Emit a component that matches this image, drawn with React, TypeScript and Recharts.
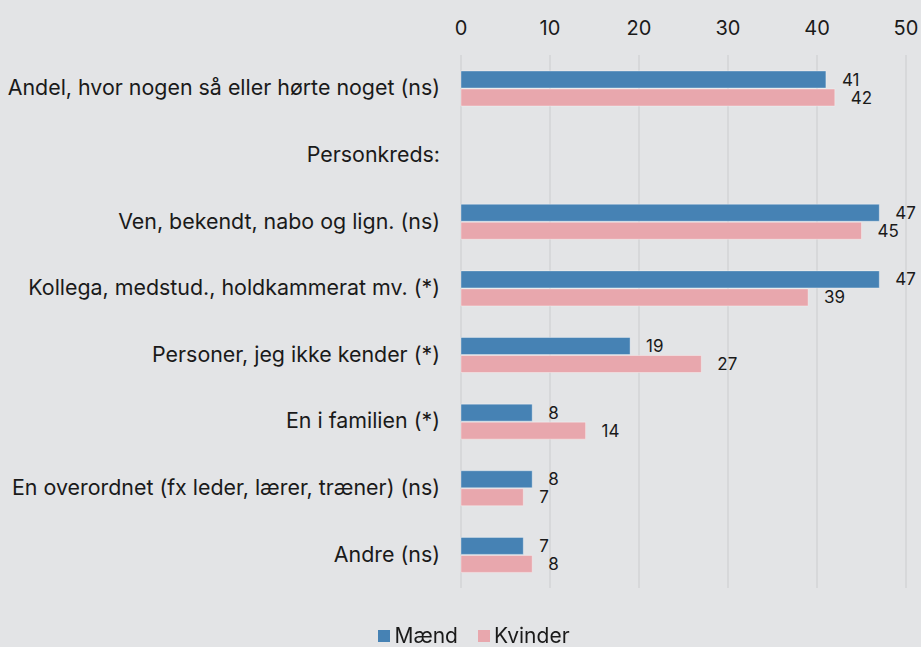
import { BarChart, Bar, XAxis, YAxis, CartesianGrid, Legend, LabelList } from "recharts";

const categories = [
  "Andel, hvor nogen så eller hørte noget (ns)",
  "Personkreds:",
  "Ven, bekendt, nabo og lign. (ns)",
  "Kollega, medstud., holdkammerat mv. (*)",
  "Personer, jeg ikke kender (*)",
  "En i familien (*)",
  "En overordnet (fx leder, lærer, træner) (ns)",
  "Andre (ns)",
];
const maend = [41, null, 47, 47, 19, 8, 8, 7];
const kvinder = [42, null, 45, 39, 27, 14, 7, 8];
const xTicks = [0, 10, 20, 30, 40, 50];

const BLUE = "#4682b4";
const PINK = "#e8a7ad";
const BG = "#e3e4e6";
const FONT = "Inter, 'Noto Sans', sans-serif";

const data = categories.map((c, i) => ({ name: c, maend: maend[i], kvinder: kvinder[i] }));

function YTick({ x, y, payload }: any) {
  return (
    <text x={x} y={y} dy={7} textAnchor="end" fontSize={21.4} fill="#1a1a1a" fontFamily={FONT}>
      {payload.value}
    </text>
  );
}

function LegendBox() {
  const items = [
    { label: "Mænd", color: BLUE },
    { label: "Kvinder", color: PINK },
  ];
  return (
    <div style={{ height: 59, display: "flex", alignItems: "flex-end", justifyContent: "center", paddingLeft: 42 }}>
      {items.map((it) => (
        <span key={it.label} style={{ display: "inline-flex", alignItems: "center", margin: "0 10px", fontSize: 21, lineHeight: "22px", color: "#1a1a1a" }}>
          <span style={{ width: 12, height: 12, background: it.color, display: "inline-block", marginRight: 4 }} />
          {it.label}
        </span>
      ))}
    </div>
  );
}

const fmt = (v: any) => (v == null ? "" : v);

export default function App() {
  return (
    <div style={{ position: "fixed", left: 0, top: 0, width: 921, height: 647, background: BG, fontFamily: FONT }}>
      <BarChart
        width={921}
        height={647}
        data={data}
        layout="vertical"
        margin={{ top: 10, right: 15, left: 0, bottom: 0 }}
        barSize={17}
        barGap={1}
      >
        <CartesianGrid horizontal={false} stroke="#d3d4d6" strokeWidth={1.5} />
        <XAxis
          type="number"
          orientation="top"
          domain={[0, 50]}
          ticks={xTicks}
          height={45}
          axisLine={false}
          tickLine={false}
          tickSize={0}
          tickMargin={20}
          tick={{ fontSize: 20, fill: "#1a1a1a", fontFamily: FONT }}
        />
        <YAxis
          type="category"
          dataKey="name"
          width={461}
          axisLine={false}
          tickLine={false}
          tickSize={0}
          tickMargin={21}
          tick={<YTick />}
          interval={0}
        />
        <Legend verticalAlign="bottom" height={59} content={<LegendBox />} />
        <Bar dataKey="maend" name="Mænd" fill={BLUE} stroke="#ffffff" strokeOpacity={0.35} isAnimationActive={false}>
          <LabelList dataKey="maend" position="right" offset={16} formatter={fmt} style={{ fontSize: 17, fill: "#1a1a1a", fontFamily: FONT }} />
        </Bar>
        <Bar dataKey="kvinder" name="Kvinder" fill={PINK} stroke="#ffffff" strokeOpacity={0.35} isAnimationActive={false}>
          <LabelList dataKey="kvinder" position="right" offset={16} formatter={fmt} style={{ fontSize: 17, fill: "#1a1a1a", fontFamily: FONT }} />
        </Bar>
      </BarChart>
    </div>
  );
}
